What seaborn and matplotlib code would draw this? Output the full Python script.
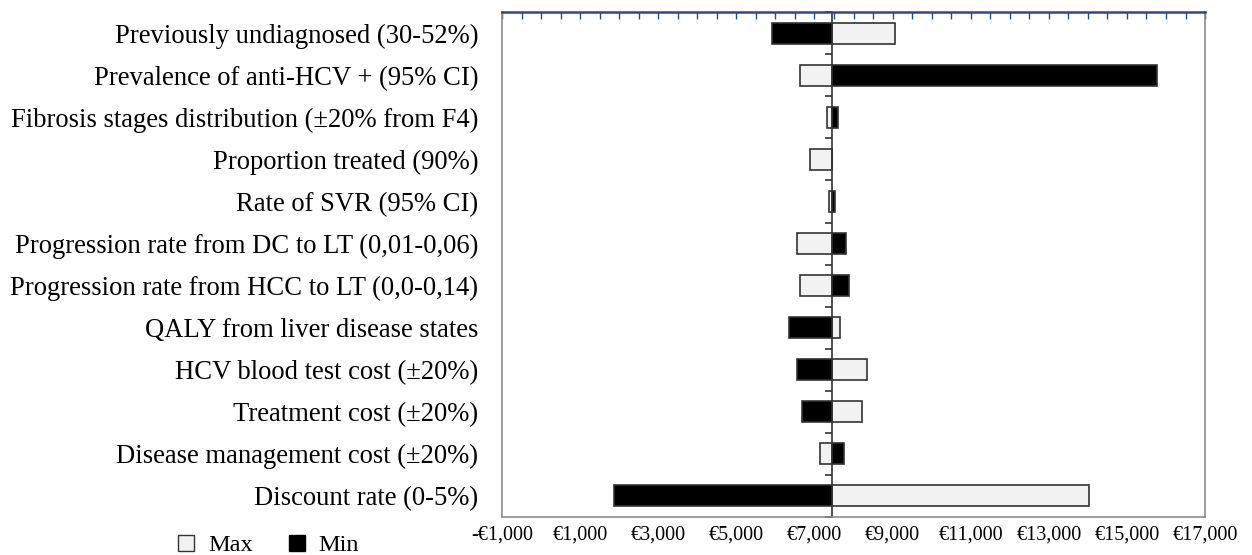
import matplotlib
matplotlib.use("Agg")
import matplotlib.pyplot as plt
from matplotlib.lines import Line2D
from matplotlib.ticker import FuncFormatter, FixedLocator
import numpy as np
import pandas as pd
import seaborn as sns

# 1. Data
parameters = [
    'Previously undiagnosed (30-52%)',
    'Prevalence of anti-HCV + (95% CI)',
    'Fibrosis stages distribution (\u00b120% from F4)',
    'Proportion treated (90%)',
    'Rate of SVR (95% CI)',
    'Progression rate from DC to LT (0,01-0,06)',
    'Progression rate from HCC to LT (0,0-0,14)',
    'QALY from liver disease states',
    'HCV blood test cost (\u00b120%)',
    'Treatment cost (\u00b120%)',
    'Disease management cost (\u00b120%)',
    'Discount rate (0-5%)',
]
max_values = [9060, 6630, 7320, 6885, 7370, 6550, 6630, 7655, 8350, 8225, 7130, 14035]
min_values = [5910, 15770, 7600, 7450, 7525, 7805, 7885, 6350, 6555, 6690, 7765, 1865]
base_case = 7450

tick_values = list(range(-1000, 17001, 2000))
minor_values = list(range(-1000, 17001, 500))

df = pd.DataFrame({
    'Parameter': parameters * 2,
    'Series': ['Max'] * len(parameters) + ['Min'] * len(parameters),
    'Value': max_values + min_values,
})
# bars start at the base-case ICER, so plot the deviation from it
df['Delta'] = df['Value'] - base_case

# 2. Styling
sns.set_style("white")
plt.rcParams['font.family'] = ['Liberation Serif', 'DejaVu Serif']
plt.rcParams['text.color'] = 'black'

fig = plt.figure(figsize=(12.52, 5.55), dpi=100)
ax = fig.add_axes([0.401, 0.0685, 0.5615, 0.9095])

sns.barplot(data=df, y='Parameter', x='Delta', hue='Series', orient='h',
            order=parameters, hue_order=['Max', 'Min'], dodge=False,
            palette={'Max': '#f2f2f2', 'Min': '#000000'}, width=0.5,
            edgecolor='#333333', linewidth=1.2, legend=False, ax=ax)

xmin, xmax = -1000 - base_case, 17000 - base_case
ax.set_xlim(xmin, xmax)
ax.set_ylim(len(parameters) - 0.5, -0.5)
ax.set_xlabel('')
ax.set_ylabel('')

# x ticks: labels at the bottom, tick marks only along the top
ax.xaxis.set_major_locator(FixedLocator([v - base_case for v in tick_values]))
ax.xaxis.set_minor_locator(FixedLocator([v - base_case for v in minor_values]))


def euro(t, pos):
    v = t + base_case
    s = f"\u20ac{abs(v):,.0f}"
    return '-' + s if v < 0 else s


ax.xaxis.set_major_formatter(FuncFormatter(euro))
ax.tick_params(axis='x', which='both', bottom=False, top=True, direction='in',
               length=5, width=1, color='#2f4a78', labelsize=14.5, pad=6,
               labelcolor='black')
ax.tick_params(axis='y', length=0, labelsize=19.2, pad=17, labelcolor='black')

for side in ['left', 'right', 'bottom']:
    ax.spines[side].set_color('#8c8c8c')
    ax.spines[side].set_linewidth(1.2)
ax.spines['top'].set_color('#2f4a78')
ax.spines['top'].set_linewidth(1.8)

# category axis crossing at the base case
frac = (0 - xmin) / (xmax - xmin)
cat_axis = ax.secondary_yaxis(frac)
cat_axis.set_yticks(np.arange(-0.5, len(parameters), 1.0))
cat_axis.set_yticklabels([])
cat_axis.tick_params(axis='y', direction='out', length=5, width=1.2, color='#333333')
cat_axis.spines['left'].set_color('#333333')
cat_axis.spines['left'].set_linewidth(1.2)

# legend
handles = [
    Line2D([], [], marker='s', linestyle='', markersize=11,
           markerfacecolor='#f2f2f2', markeredgecolor='#333333', label='Max'),
    Line2D([], [], marker='s', linestyle='', markersize=11,
           markerfacecolor='#000000', markeredgecolor='#000000', label='Min'),
]
fig.legend(handles=handles, loc='center', bbox_to_anchor=(0.212, 0.018), ncol=2,
           frameon=False, fontsize=17.5, handletextpad=0.3, columnspacing=1.2,
           handlelength=1.2)

plt.savefig('out.png', dpi=100)
